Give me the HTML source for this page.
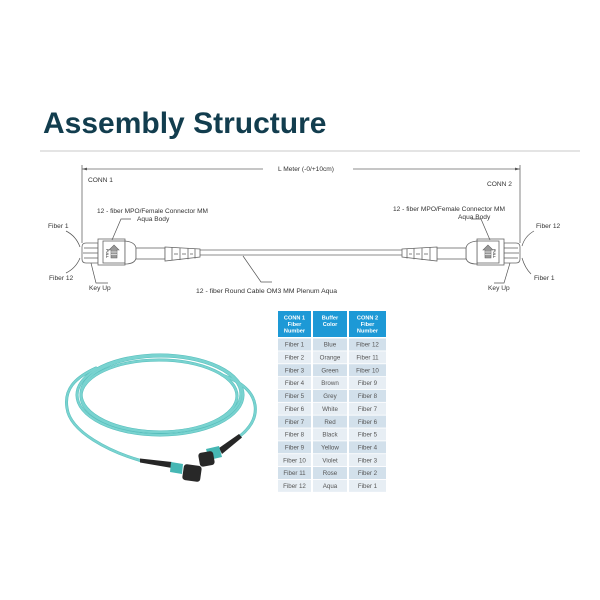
<!DOCTYPE html>
<html>
<head>
<meta charset="utf-8">
<style>
html,body{margin:0;padding:0;background:#fff;}
svg{display:block;}
text{font-family:"Liberation Sans",Arial,sans-serif;}
</style>
</head>
<body>
<svg width="600" height="600" viewBox="0 0 600 600" xmlns="http://www.w3.org/2000/svg">
<rect width="600" height="600" fill="#fff"/>

<!-- Title -->
<text x="43" y="133" font-size="30" font-weight="bold" fill="#123d4e">Assembly Structure</text>
<line x1="40" y1="151" x2="580" y2="151" stroke="#dcdcdc" stroke-width="1.5"/>

<!-- Dimension line -->
<g stroke="#666" stroke-width="0.8" fill="none">
  <line x1="82" y1="169" x2="263" y2="169"/>
  <line x1="353" y1="169" x2="520" y2="169"/>
  <line x1="82" y1="165" x2="82" y2="243"/>
  <line x1="520" y1="165" x2="520" y2="243"/>
</g>
<polygon points="82,169 87,167.6 87,170.4" fill="#555"/>
<polygon points="520,169 515,167.6 515,170.4" fill="#555"/>
<text x="306" y="171" font-size="6.6" fill="#333" text-anchor="middle">L Meter (-0/+10cm)</text>

<text x="88" y="182" font-size="6.6" fill="#333">CONN 1</text>
<text x="487" y="186" font-size="6.6" fill="#333">CONN 2</text>

<!-- Cable -->
<g stroke="#666" stroke-width="0.8">
  <line x1="200" y1="250" x2="402" y2="250"/>
  <line x1="200" y1="255" x2="402" y2="255"/>
</g>

<!-- Left connector -->
<g stroke="#666" stroke-width="0.8" fill="#fff">
  <path d="M98,243 L86,243 Q82,243 82,247 L82,259 Q82,263 86,263 L98,263 Z"/>
  <line x1="84" y1="248" x2="98" y2="248"/>
  <line x1="83" y1="253" x2="98" y2="253"/>
  <line x1="84" y1="258" x2="98" y2="258"/>
  <rect x="98" y="239" width="27" height="26"/>
  <rect x="103" y="241" width="22" height="22"/>
  <path d="M125,241 Q135,242 136,248 L136,258 Q135,264 125,264 Z"/>
  <rect x="136" y="248" width="29" height="11"/>
  <path d="M165,247 L200,249 L200,257 L165,261 Z"/>
  <line x1="172" y1="247.5" x2="172" y2="260.5"/>
  <line x1="180" y1="248" x2="180" y2="260"/>
  <line x1="188" y1="248.3" x2="188" y2="259.3"/>
  <line x1="195" y1="248.7" x2="195" y2="258.5"/>
  <line x1="174" y1="254" x2="178" y2="254"/>
  <line x1="182" y1="254" x2="186" y2="254"/>
  <line x1="190" y1="254" x2="193" y2="254"/>
  <path d="M114,245 L119,250 L117,250 L117,258 L111,258 L111,250 L109,250 Z" fill="#999" stroke="#666" stroke-width="0.6"/>
  <line x1="111" y1="252" x2="117" y2="252" stroke="#fff" stroke-width="0.6"/>
  <line x1="111" y1="254.5" x2="117" y2="254.5" stroke="#fff" stroke-width="0.6"/>
</g>
<text x="0" y="0" font-size="3.5" fill="#444" font-weight="bold" transform="translate(106,249) rotate(90)">PULL</text>

<!-- Right connector (mirrored) -->
<g transform="translate(602,0) scale(-1,1)" stroke="#666" stroke-width="0.8" fill="#fff">
  <path d="M98,243 L86,243 Q82,243 82,247 L82,259 Q82,263 86,263 L98,263 Z"/>
  <line x1="84" y1="248" x2="98" y2="248"/>
  <line x1="83" y1="253" x2="98" y2="253"/>
  <line x1="84" y1="258" x2="98" y2="258"/>
  <rect x="98" y="239" width="27" height="26"/>
  <rect x="103" y="241" width="22" height="22"/>
  <path d="M125,241 Q135,242 136,248 L136,258 Q135,264 125,264 Z"/>
  <rect x="136" y="248" width="29" height="11"/>
  <path d="M165,247 L200,249 L200,257 L165,261 Z"/>
  <line x1="172" y1="247.5" x2="172" y2="260.5"/>
  <line x1="180" y1="248" x2="180" y2="260"/>
  <line x1="188" y1="248.3" x2="188" y2="259.3"/>
  <line x1="195" y1="248.7" x2="195" y2="258.5"/>
  <line x1="174" y1="254" x2="178" y2="254"/>
  <line x1="182" y1="254" x2="186" y2="254"/>
  <line x1="190" y1="254" x2="193" y2="254"/>
  <path d="M114,245 L119,250 L117,250 L117,258 L111,258 L111,250 L109,250 Z" fill="#999" stroke="#666" stroke-width="0.6"/>
  <line x1="111" y1="252" x2="117" y2="252" stroke="#fff" stroke-width="0.6"/>
  <line x1="111" y1="254.5" x2="117" y2="254.5" stroke="#fff" stroke-width="0.6"/>
</g>
<text x="0" y="0" font-size="3.5" fill="#444" font-weight="bold" transform="translate(493,249) rotate(90)">PULL</text>

<!-- Leaders -->
<g stroke="#555" stroke-width="0.7" fill="none">
  <path d="M66,231 Q76,236 80,247"/>
  <path d="M66,273 Q76,268 80,258"/>
  <path d="M108,283 L96,283 L91,263"/>
  <path d="M131,219 L121,219 L112,240"/>
  <path d="M243,256 L261,282 L272,282"/>
  <path d="M534,231 Q525,236 522,246"/>
  <path d="M531,274 Q525,268 522,258"/>
  <path d="M494,283 L504,283 L510,263"/>
  <path d="M471,219 L481,219 L490,240"/>
</g>

<!-- Labels -->
<g font-size="6.6" fill="#333">
  <text x="48" y="228">Fiber 1</text>
  <text x="49" y="280">Fiber 12</text>
  <text x="89" y="290">Key Up</text>
  <text x="97" y="213" textLength="111" lengthAdjust="spacingAndGlyphs">12 - fiber MPO/Female Connector MM</text>
  <text x="137" y="221">Aqua Body</text>
  <text x="196" y="293" textLength="141" lengthAdjust="spacingAndGlyphs">12 - fiber Round Cable OM3 MM Plenum Aqua</text>
  <text x="393" y="211" textLength="112" lengthAdjust="spacingAndGlyphs">12 - fiber MPO/Female Connector MM</text>
  <text x="458" y="219">Aqua Body</text>
  <text x="536" y="228">Fiber 12</text>
  <text x="534" y="280">Fiber 1</text>
  <text x="488" y="290">Key Up</text>
</g>

<!-- Photo of cable -->
<g fill="none" stroke-linecap="round">
  <g stroke="#56bdbb" stroke-width="3">
    <ellipse cx="160" cy="395" rx="83" ry="40"/>
    <ellipse cx="161" cy="394" rx="80" ry="38"/>
    <ellipse cx="159" cy="396" rx="78" ry="36"/>
    <path d="M142,461 C110,452 70,432 67,408 C64,390 74,378 96,368"/>
    <path d="M240,436 C250,428 257,418 255,405 C253,392 242,382 222,375"/>
  </g>
  <g stroke="#79d3d0" stroke-width="2">
    <ellipse cx="160" cy="395" rx="83" ry="40"/>
    <ellipse cx="161" cy="394" rx="80" ry="38"/>
    <ellipse cx="159" cy="396" rx="78" ry="36"/>
    <path d="M142,461 C110,452 70,432 67,408 C64,390 74,378 96,368"/>
    <path d="M240,436 C250,428 257,418 255,405 C253,392 242,382 222,375"/>
  </g>
</g>
<!-- left photo connector -->
<polygon points="140,458.5 172,462 172,468 140,462.5" fill="#262626"/>
<polygon points="171,462 183,464 182,474 170,472" fill="#46b7b4"/>
<rect x="183" y="465" width="18" height="16" rx="3" fill="#282828" transform="rotate(8 192 473)"/>
<!-- right photo connector -->
<polygon points="219,448 239,434 242,437.5 222,454" fill="#262626"/>
<polygon points="206,449 219,446 222,457 209,460" fill="#46b7b4"/>
<rect x="199" y="452" width="15" height="14" rx="3" fill="#282828" transform="rotate(-10 206 459)"/>

<!-- Table -->
<g>
  <rect x="278" y="311" width="33" height="26" fill="#1d99d6"/>
  <rect x="313" y="311" width="34" height="26" fill="#1d99d6"/>
  <rect x="349" y="311" width="37" height="26" fill="#1d99d6"/>
  <g font-size="5.6" font-weight="bold" fill="#fff" text-anchor="middle">
    <text x="294.5" y="319.5">CONN 1</text>
    <text x="294.5" y="326">Fiber</text>
    <text x="294.5" y="332.5">Number</text>
    <text x="330" y="319.5">Buffer</text>
    <text x="330" y="326">Color</text>
    <text x="367.5" y="319.5">CONN 2</text>
    <text x="367.5" y="326">Fiber</text>
    <text x="367.5" y="332.5">Number</text>
  </g>
</g>
<g font-size="6.2" fill="#555" text-anchor="middle">
  <g fill="#d2e0eb">
    <rect x="278" y="338.5" width="33" height="12"/><rect x="313" y="338.5" width="34" height="12"/><rect x="349" y="338.5" width="37" height="12"/>
    <rect x="278" y="364.2" width="33" height="12"/><rect x="313" y="364.2" width="34" height="12"/><rect x="349" y="364.2" width="37" height="12"/>
    <rect x="278" y="389.9" width="33" height="12"/><rect x="313" y="389.9" width="34" height="12"/><rect x="349" y="389.9" width="37" height="12"/>
    <rect x="278" y="415.6" width="33" height="12"/><rect x="313" y="415.6" width="34" height="12"/><rect x="349" y="415.6" width="37" height="12"/>
    <rect x="278" y="441.3" width="33" height="12"/><rect x="313" y="441.3" width="34" height="12"/><rect x="349" y="441.3" width="37" height="12"/>
    <rect x="278" y="467.0" width="33" height="12"/><rect x="313" y="467.0" width="34" height="12"/><rect x="349" y="467.0" width="37" height="12"/>
  </g>
  <g fill="#e7eef4">
    <rect x="278" y="351.35" width="33" height="12"/><rect x="313" y="351.35" width="34" height="12"/><rect x="349" y="351.35" width="37" height="12"/>
    <rect x="278" y="377.05" width="33" height="12"/><rect x="313" y="377.05" width="34" height="12"/><rect x="349" y="377.05" width="37" height="12"/>
    <rect x="278" y="402.75" width="33" height="12"/><rect x="313" y="402.75" width="34" height="12"/><rect x="349" y="402.75" width="37" height="12"/>
    <rect x="278" y="428.45" width="33" height="12"/><rect x="313" y="428.45" width="34" height="12"/><rect x="349" y="428.45" width="37" height="12"/>
    <rect x="278" y="454.15" width="33" height="12"/><rect x="313" y="454.15" width="34" height="12"/><rect x="349" y="454.15" width="37" height="12"/>
    <rect x="278" y="479.85" width="33" height="12"/><rect x="313" y="479.85" width="34" height="12"/><rect x="349" y="479.85" width="37" height="12"/>
  </g>
  <text x="294.5" y="346.7">Fiber 1</text><text x="330" y="346.7">Blue</text><text x="367.5" y="346.7">Fiber 12</text>
  <text x="294.5" y="359.5">Fiber 2</text><text x="330" y="359.5">Orange</text><text x="367.5" y="359.5">Fiber 11</text>
  <text x="294.5" y="372.4">Fiber 3</text><text x="330" y="372.4">Green</text><text x="367.5" y="372.4">Fiber 10</text>
  <text x="294.5" y="385.2">Fiber 4</text><text x="330" y="385.2">Brown</text><text x="367.5" y="385.2">Fiber 9</text>
  <text x="294.5" y="398.1">Fiber 5</text><text x="330" y="398.1">Grey</text><text x="367.5" y="398.1">Fiber 8</text>
  <text x="294.5" y="410.9">Fiber 6</text><text x="330" y="410.9">White</text><text x="367.5" y="410.9">Fiber 7</text>
  <text x="294.5" y="423.8">Fiber 7</text><text x="330" y="423.8">Red</text><text x="367.5" y="423.8">Fiber 6</text>
  <text x="294.5" y="436.6">Fiber 8</text><text x="330" y="436.6">Black</text><text x="367.5" y="436.6">Fiber 5</text>
  <text x="294.5" y="449.5">Fiber 9</text><text x="330" y="449.5">Yellow</text><text x="367.5" y="449.5">Fiber 4</text>
  <text x="294.5" y="462.3">Fiber 10</text><text x="330" y="462.3">Violet</text><text x="367.5" y="462.3">Fiber 3</text>
  <text x="294.5" y="475.2">Fiber 11</text><text x="330" y="475.2">Rose</text><text x="367.5" y="475.2">Fiber 2</text>
  <text x="294.5" y="488.0">Fiber 12</text><text x="330" y="488.0">Aqua</text><text x="367.5" y="488.0">Fiber 1</text>
</g>
</svg>
</body>
</html>
